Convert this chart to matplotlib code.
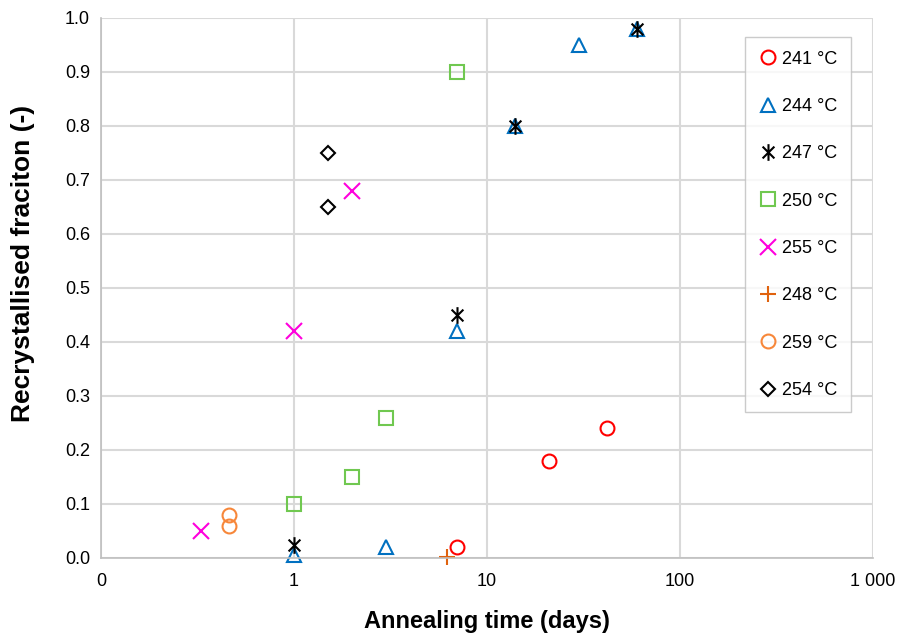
import matplotlib.pyplot as plt
import matplotlib.ticker as mticker
from matplotlib.path import Path

plt.rcParams['font.family'] = ['Liberation Sans', 'DejaVu Sans']

# --- Dados ---
t_241 = [7, 21, 42]
f_241 = [0.02, 0.18, 0.24]
t_244 = [1, 3, 7, 14, 30, 60]
f_244 = [0.005, 0.02, 0.42, 0.80, 0.95, 0.98]
t_247 = [1, 7, 14, 60]
f_247 = [0.025, 0.45, 0.80, 0.98]
t_250 = [1, 2, 3, 7]
f_250 = [0.10, 0.15, 0.26, 0.90]
t_255 = [0.33, 1, 2]
f_255 = [0.05, 0.42, 0.68]
t_248 = [6.2]
f_248 = [0.002]
t_259 = [0.46, 0.46]
f_259 = [0.08, 0.06]
t_254 = [1.5, 1.5]
f_254 = [0.75, 0.65]

x_ticks = [0.1, 1, 10, 100, 1000]
x_labels = ['0', '1', '10', '100', '1 000']

# marcador estrela do Excel: X + linha vertical
d = 0.707
star = Path([(0, -1), (0, 1), (-d, -d), (d, d), (-d, d), (d, -d)],
            [Path.MOVETO, Path.LINETO, Path.MOVETO, Path.LINETO,
             Path.MOVETO, Path.LINETO])

series = [
    (t_241, f_241, '241 °C', 'o', '#FF0000', True, 10),
    (t_244, f_244, '244 °C', '^', '#0070C0', True, 10),
    (t_247, f_247, '247 °C', star, '#000000', False, 12),
    (t_250, f_250, '250 °C', 's', '#70C850', True, 10),
    (t_255, f_255, '255 °C', 'x', '#FF00DD', False, 11),
    (t_248, f_248, '248 °C', '+', '#E0620E', False, 12),
    (t_259, f_259, '259 °C', 'o', '#F7873A', True, 10),
    (t_254, f_254, '254 °C', 'D', '#000000', True, 7),
]

fig = plt.figure(figsize=(8.97, 6.35), dpi=100)
ax = fig.add_axes([101 / 897, 1 - 558 / 635, 772 / 897, 540 / 635])

for t, f, lab, mk, col, hollow, ms in series:
    if hollow:
        ax.plot(t, f, linestyle='none', marker=mk, markersize=ms,
                markerfacecolor='none', markeredgecolor=col,
                markeredgewidth=1.5, label=lab, clip_on=False)
    else:
        ax.plot(t, f, linestyle='none', marker=mk, markersize=ms,
                markeredgecolor=col, markeredgewidth=1.5, label=lab,
                clip_on=False)

ax.set_xscale('log')
ax.set_xlim(0.1, 1000)
ax.set_ylim(0, 1.0)
ax.xaxis.set_major_locator(mticker.FixedLocator(x_ticks))
ax.xaxis.set_major_formatter(mticker.FixedFormatter(x_labels))
ax.xaxis.set_minor_locator(mticker.NullLocator())
ax.set_yticks([i / 10 for i in range(11)])
ax.yaxis.set_major_formatter(mticker.FormatStrFormatter('%.1f'))

ax.grid(True, color='#D9D9D9', linewidth=1.5)
ax.set_axisbelow(True)
for s in ['top', 'right']:
    ax.spines[s].set_visible(False)
for s in ['left', 'bottom']:
    ax.spines[s].set_color('#BFBFBF')
    ax.spines[s].set_linewidth(1.2)
ax.tick_params(axis='both', length=0, labelsize=13, colors='#000000')
ax.tick_params(axis='y', pad=8)
ax.tick_params(axis='x', pad=11)

ax.set_xlabel('Annealing time (days)', fontsize=17, fontweight='bold', labelpad=14)
ax.set_ylabel('Recrystallised fraciton (-)', fontsize=19, fontweight='bold')
ax.yaxis.set_label_coords(-0.0855, 0.546)

leg = ax.legend(loc='upper right', bbox_to_anchor=(750 / 772, 1 - 19 / 540),
                frameon=True, fancybox=False, fontsize=13, labelspacing=1.68,
                handlelength=1.0, handletextpad=0.3, borderpad=0.75,
                borderaxespad=0)
leg.get_frame().set_edgecolor('#BFBFBF')
leg.get_frame().set_linewidth(1.0)

fig.savefig('out.png', dpi=100)
